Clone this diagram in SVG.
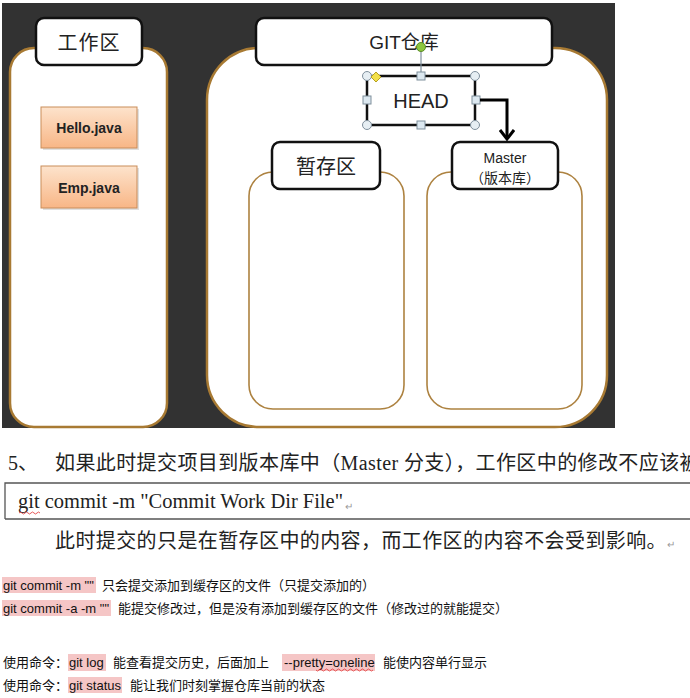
<svg xmlns="http://www.w3.org/2000/svg" width="690" height="698" viewBox="0 0 690 698">
<defs>
<style>
.panel{fill:#fff;stroke:#a87a33;stroke-width:2.5}
.inner{fill:#fff;stroke:#ad8240;stroke-width:1.6}
.label{fill:#fff;stroke:#111;stroke-width:2.5}
.file{fill:url(#fileGrad);stroke:#c98d5a;stroke-width:1}
.lt{font-family:"Liberation Sans","Noto Sans CJK SC",sans-serif;fill:#222;text-anchor:middle}
.cjk{font-family:"Noto Sans CJK SC",sans-serif;fill:#222;text-anchor:middle}
.doc{font-family:"Liberation Serif","Noto Sans CJK SC",serif;fill:#222;font-size:20px}
.sm{font-family:"Liberation Sans","Noto Sans CJK SC",sans-serif;fill:#111;font-size:13px}
.hl{fill:#f5c6c6}
.hc{fill:#e6eef3;stroke:#7f8f9c;stroke-width:1}
.hs{fill:#dce8f0;stroke:#7f8f9c;stroke-width:1}
.ret{font-family:"Liberation Sans",sans-serif;font-size:10px;fill:#999}
.wavy{fill:none;stroke:#e03030;stroke-width:0.8}
</style>
<linearGradient id="fileGrad" x1="0" y1="0" x2="0" y2="1">
<stop offset="0" stop-color="#fde3cc"/>
<stop offset="1" stop-color="#f8b686"/>
</linearGradient>
<marker id="chev" viewBox="0 0 12 16" refX="10" refY="8" markerWidth="12" markerHeight="16" markerUnits="userSpaceOnUse" orient="auto">
<path d="M1,1 L10,8 L1,15" fill="none" stroke="#000" stroke-width="3"/>
</marker>
</defs>

<rect x="0" y="0" width="690" height="698" fill="#fff"/>
<rect x="2" y="3" width="613" height="425" fill="#323232"/>

<g id="work-area-panel">
<rect class="panel" x="10" y="48" width="157" height="379" rx="24"/>
</g>
<g id="git-repo-panel">
<rect class="panel" x="207" y="48" width="400" height="379" rx="52"/>
</g>
<g id="staging-panel">
<rect class="inner" x="249" y="172" width="155" height="237" rx="24"/>
</g>
<g id="master-panel">
<rect class="inner" x="427" y="172" width="155" height="237" rx="24"/>
</g>

<g id="work-area-label">
<rect class="label" x="36" y="18" width="106" height="47" rx="8"/>
<text class="cjk" x="89" y="50" font-size="20" letter-spacing="1">工作区</text>
</g>
<g id="git-repo-label">
<rect class="label" x="256" y="18" width="296" height="47" rx="8"/>
<text class="lt" x="404" y="49" font-size="19">GIT仓库</text>
</g>

<g id="hello-java">
<rect x="43" y="109" width="96" height="41" fill="#000" opacity="0.12"/>
<rect class="file" x="41" y="107" width="96" height="41"/>
<text class="lt" x="89" y="133" font-size="14" font-weight="bold" fill="#111">Hello.java</text>
</g>
<g id="emp-java">
<rect x="43" y="168" width="96" height="42" fill="#000" opacity="0.12"/>
<rect class="file" x="41" y="166" width="96" height="42"/>
<text class="lt" x="89" y="193" font-size="14" font-weight="bold" fill="#111">Emp.java</text>
</g>

<g id="staging-label">
<rect class="label" x="272" y="142" width="108" height="47" rx="8"/>
<text class="cjk" x="326" y="174" font-size="20">暂存区</text>
</g>
<g id="master-label">
<rect class="label" x="452" y="142" width="106" height="47" rx="8"/>
<text class="lt" x="505" y="163" font-size="14">Master</text>
<text class="cjk" x="505" y="183" font-size="14">（版本库）</text>
</g>

<g id="head">
<rect class="label" x="367" y="76" width="108" height="49" rx="4" stroke-width="2.2"/>
<text class="lt" x="421" y="108" font-size="20">HEAD</text>
<line x1="421" y1="51" x2="421" y2="72" stroke="#7f8f9c" stroke-width="1.2"/>
<circle cx="421" cy="47" r="4.5" fill="#8cc63f" stroke="#5b8c2a" stroke-width="1"/>
<circle class="hc" cx="367" cy="76" r="4.5"/>
<circle class="hc" cx="475" cy="76" r="4.5"/>
<circle class="hc" cx="367" cy="125" r="4.5"/>
<circle class="hc" cx="475" cy="125" r="4.5"/>
<rect class="hs" x="417" y="72" width="8" height="8"/>
<rect class="hs" x="417" y="121" width="8" height="8"/>
<rect class="hs" x="363" y="96" width="8" height="8"/>
<rect class="hs" x="472" y="96" width="8" height="8"/>
<path d="M376,72 L381,77 L376,82 L371,77 Z" fill="#f3e04a" stroke="#b5a020" stroke-width="1"/>
</g>

<g id="connectors">
<path d="M480,100 H507 V139" fill="none" stroke="#000" stroke-width="3" marker-end="url(#chev)"/>
</g>

<g id="doc-text">
<text class="doc" x="8" y="470">5、</text>
<text class="doc" x="55" y="470" letter-spacing="0.4">如果此时提交项目到版本库中（Master 分支），工作区中的修改不应该被</text>
<path d="M5,519 V483 H690 M5,519 H690" fill="none" stroke="#555" stroke-width="1.3"/>
<text class="doc" x="18" y="508" textLength="325" lengthAdjust="spacingAndGlyphs">git commit -m "Commit Work Dir File"</text>
<text class="ret" x="345" y="510">↵</text>
<path class="wavy" d="M19,513 q1.5,-2 3,0 t3,0 t3,0 t3,0 t3,0 t3,0 t3,0"/>
<text class="doc" x="55" y="548" letter-spacing="0.4">此时提交的只是在暂存区中的内容，而工作区的内容不会受到影响。</text>
<text class="ret" x="667" y="548">↵</text>
</g>

<g id="notes">
<rect class="hl" x="2" y="577" width="94" height="16"/>
<text class="sm" x="3" y="590">git commit -m ""</text>
<text class="sm" x="102" y="590">只会提交添加到缓存区的文件（只提交添加的）</text>

<rect class="hl" x="2" y="600" width="109" height="16"/>
<text class="sm" x="3" y="613">git commit -a -m ""</text>
<text class="sm" x="118" y="613">能提交修改过，但是没有添加到缓存区的文件（修改过的就能提交）</text>

<text class="sm" x="3" y="667">使用命令：</text>
<rect class="hl" x="68" y="654" width="38" height="17"/>
<text class="sm" x="69" y="667">git log</text>
<text class="sm" x="113" y="667">能查看提交历史，后面加上</text>
<rect class="hl" x="282" y="654" width="93" height="17"/>
<text class="sm" x="284" y="667">--pretty=oneline</text>
<path class="wavy" d="M316,670 q1.5,2 3,0 t3,0 t3,0 t3,0 t3,0 t3,0 t3,0 t3,0 t3,0 t3,0 t3,0 t3,0 t3,0 t3,0 t3,0 t3,0 t3,0 t3,0 t3,0"/>
<text class="sm" x="383" y="667">能使内容单行显示</text>

<text class="sm" x="3" y="690">使用命令：</text>
<rect class="hl" x="68" y="677" width="54" height="16"/>
<text class="sm" x="69" y="690">git status</text>
<text class="sm" x="130" y="690">能让我们时刻掌握仓库当前的状态</text>
</g>
</svg>
